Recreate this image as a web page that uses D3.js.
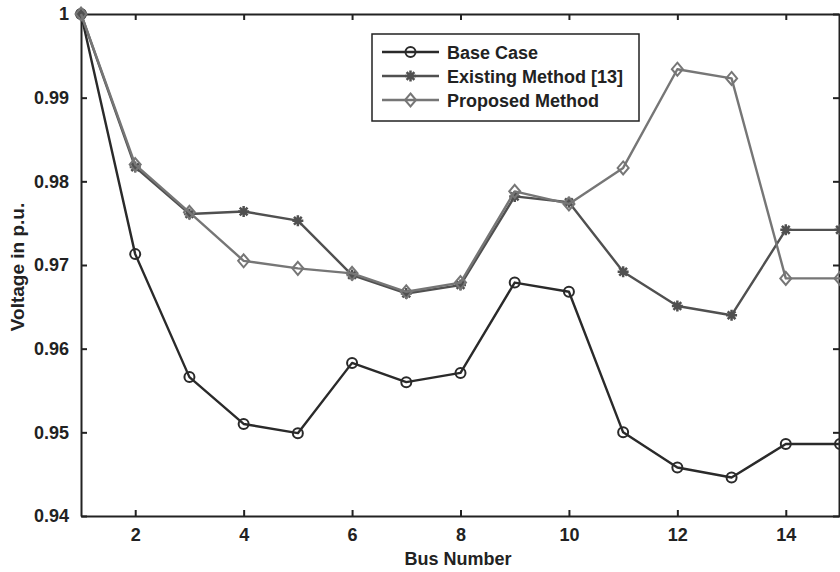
<!DOCTYPE html>
<html lang="en">
<head>
<meta charset="utf-8">
<title>Bus Voltage Profile</title>
<script src="https://d3js.org/d3.v7.min.js"></script>
<style>
  body { margin: 0; background: #fff; }
  svg text { font-family: "Liberation Sans", Arial, sans-serif; font-weight: bold; fill: #222; }
</style>
</head>
<body>
<div id="chart"></div>
<script>
// Data
const buses = [1, 2, 3, 4, 5, 6, 7, 8, 9, 10, 11, 12, 13, 14, 15];
const baseCase = [1.0, 0.9713, 0.9566, 0.9510, 0.9499, 0.9583, 0.9560, 0.9571, 0.9679, 0.9668, 0.9500, 0.9458, 0.9446, 0.9486, 0.9486];
const existingMethod = [1.0, 0.9817, 0.9761, 0.9764, 0.9753, 0.9688, 0.9666, 0.9676, 0.9782, 0.9775, 0.9692, 0.9651, 0.9640, 0.9742, 0.9742];
const proposedMethod = [1.0, 0.9820, 0.9763, 0.9705, 0.9696, 0.9690, 0.9668, 0.9679, 0.9788, 0.9773, 0.9816, 0.9934, 0.9923, 0.9684, 0.9684];
const seriesNames = ["Base Case", "Existing Method [13]", "Proposed Method"];
const xTicks = [2, 4, 6, 8, 10, 12, 14];
const yTicks = [0.94, 0.95, 0.96, 0.97, 0.98, 0.99, 1];

const width = 840, height = 572;
const margin = { left: 81, right: 0, top: 14, bottom: 56 };

const svg = d3.select("#chart").append("svg")
    .attr("width", width)
    .attr("height", height);

const x = d3.scaleLinear().domain([1, 15]).range([margin.left, 840]);
const y = d3.scaleLinear().domain([0.94, 1]).range([height - margin.bottom, margin.top]);

// Series styling
const series = [
    { name: seriesNames[0], values: baseCase, color: "#2a2a2a", marker: "circle" },
    { name: seriesNames[1], values: existingMethod, color: "#505050", marker: "star" },
    { name: seriesNames[2], values: proposedMethod, color: "#767676", marker: "diamond" }
];

// Box axes (MATLAB style, ticks inside)
const tickLen = 6;
const axisColor = "#222";

svg.append("g")
    .attr("transform", `translate(0,${y(0.94)})`)
    .call(d3.axisBottom(x).tickValues(xTicks).tickSizeInner(-tickLen).tickSizeOuter(0).tickPadding(12).tickFormat(d3.format("d")))
    .call(g => g.selectAll("text").attr("font-size", 18));

svg.append("g")
    .attr("transform", `translate(0,${y(1)})`)
    .call(d3.axisTop(x).tickValues(xTicks).tickSizeInner(-tickLen).tickSizeOuter(0).tickFormat(""));

svg.append("g")
    .attr("transform", `translate(${x(1)},0)`)
    .call(d3.axisLeft(y).tickValues(yTicks).tickSizeInner(-tickLen).tickSizeOuter(0).tickPadding(12)
        .tickFormat(d => d === 1 ? "1" : d3.format(".2f")(d)))
    .call(g => g.selectAll("text").attr("font-size", 18));

svg.append("g")
    .attr("transform", `translate(${x(15) - 1},0)`)
    .call(d3.axisRight(y).tickValues(yTicks).tickSizeInner(-tickLen).tickSizeOuter(0).tickFormat(""));

svg.selectAll(".domain, .tick line").attr("stroke", axisColor).attr("stroke-width", 2);
svg.selectAll(".tick text").attr("fill", "#222");

// Axis labels
svg.append("text")
    .attr("x", 458)
    .attr("y", 565)
    .attr("text-anchor", "middle")
    .attr("font-size", 18)
    .text("Bus Number");

svg.append("text")
    .attr("transform", `translate(24,267) rotate(-90)`)
    .attr("text-anchor", "middle")
    .attr("font-size", 19)
    .text("Voltage in p.u.");

// Marker drawing
function drawMarker(g, type, cx, cy, color) {
    if (type === "circle") {
        g.append("circle").attr("cx", cx).attr("cy", cy).attr("r", 5)
            .attr("fill", "none").attr("stroke", color).attr("stroke-width", 2);
    } else if (type === "diamond") {
        g.append("path")
            .attr("d", `M${cx},${cy - 6.5}L${cx + 5.5},${cy}L${cx},${cy + 6.5}L${cx - 5.5},${cy}Z`)
            .attr("fill", "none").attr("stroke", color).attr("stroke-width", 2);
    } else {
        const r = 5.5, d = r * 0.707;
        g.append("path")
            .attr("d", `M${cx - r},${cy}L${cx + r},${cy}M${cx},${cy - r}L${cx},${cy + r}` +
                `M${cx - d},${cy - d}L${cx + d},${cy + d}M${cx - d},${cy + d}L${cx + d},${cy - d}`)
            .attr("fill", "none").attr("stroke", color).attr("stroke-width", 2.5);
    }
}

const line = d3.line().x(d => x(d[0])).y(d => y(d[1]));

series.forEach(s => {
    const pts = buses.map((b, i) => [b, s.values[i]]);
    const g = svg.append("g");
    g.append("path")
        .datum(pts)
        .attr("d", line)
        .attr("fill", "none")
        .attr("stroke", s.color)
        .attr("stroke-width", 2.4)
        .attr("stroke-linejoin", "round");
    pts.forEach(p => drawMarker(g, s.marker, x(p[0]), y(p[1]), s.color));
});

// Legend
const legend = svg.append("g").attr("transform", "translate(372,34)");
legend.append("rect")
    .attr("width", 267).attr("height", 87)
    .attr("fill", "#fff").attr("stroke", "#222").attr("stroke-width", 1.5);

series.forEach((s, i) => {
    const ly = 18 + i * 24;
    legend.append("line")
        .attr("x1", 10).attr("x2", 67).attr("y1", ly).attr("y2", ly)
        .attr("stroke", s.color).attr("stroke-width", 2.4);
    drawMarker(legend, s.marker, 38.5, ly, s.color);
    legend.append("text")
        .attr("x", 75).attr("y", ly + 6.5)
        .attr("font-size", 18)
        .text(s.name);
});
</script>
</body>
</html>
